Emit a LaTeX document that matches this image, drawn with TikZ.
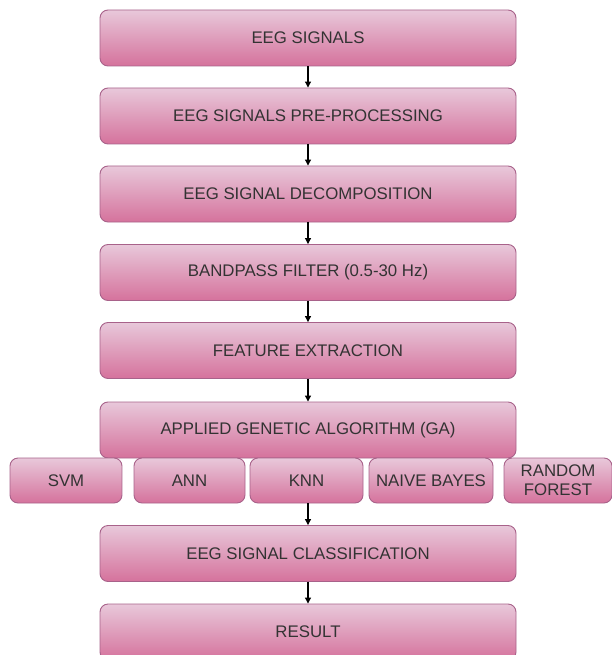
\documentclass[tikz,border=0pt]{standalone}
\usepackage{fontspec}
\setmainfont{Liberation Sans}
\usepackage{xcolor}
\definecolor{eegtop}{HTML}{E8C8DA}
\definecolor{eegbot}{HTML}{D5729C}
\definecolor{eegedge}{HTML}{A8628A}
\definecolor{eegtext}{HTML}{333333}
\usepackage{tikz}
\usetikzlibrary{arrows.meta, calc}

\begin{document}
\begin{tikzpicture}[x=1pt, y=-1pt,
  stage/.style={rectangle, rounded corners=8pt, draw=eegedge, line width=0.9pt,
    top color=eegtop, bottom color=eegbot, minimum width=416pt, minimum height=56pt,
    align=center, text=eegtext, font=\fontsize{16.8}{19}\selectfont},
  clf/.style={stage, minimum height=45pt},
  flow/.style={-{Triangle[length=6pt,width=6pt]}, line width=1.1pt, black}
]
\useasboundingbox (0,0) rectangle (612,655);
\clip (0,0) rectangle (612,655);
% main pipeline
\node[stage] (sig) at (308, 38) {EEG SIGNALS};
\node[stage] (pre) at (308, 116) {EEG SIGNALS PRE-PROCESSING};
\node[stage] (dec) at (308, 194) {EEG SIGNAL DECOMPOSITION};
\node[stage] (bpf) at (308, 272.5) {BANDPASS FILTER (0.5-30 Hz)};
\node[stage] (fex) at (308, 350.5) {FEATURE EXTRACTION};
\node[stage] (ga) at (308, 430) {APPLIED GENETIC ALGORITHM (GA)};
% classifiers
\node[clf, minimum width=112pt] (svm) at (66, 480.5) {SVM};
\node[clf, minimum width=111pt] (ann) at (189.5, 480.5) {ANN};
\node[clf, minimum width=113pt] (knn) at (306.5, 480.5) {KNN};
\node[clf, minimum width=124pt] (nb) at (431, 480.5) {NAIVE BAYES};
\node[clf, minimum width=108pt] (rf) at (558, 480.5) {RANDOM\\FOREST};
\node[stage] (cls) at (308, 553.5) {EEG SIGNAL CLASSIFICATION};
\node[stage] (res) at (308, 632) {RESULT};
% arrows
\draw[flow] (sig) -- (pre);
\draw[flow] (pre) -- (dec);
\draw[flow] (dec) -- (bpf);
\draw[flow] (bpf) -- (fex);
\draw[flow] (fex) -- (ga);
\draw[flow] (knn.south -| cls.north) -- (cls.north);
\draw[flow] (cls) -- (res);
\end{tikzpicture}
\end{document}
